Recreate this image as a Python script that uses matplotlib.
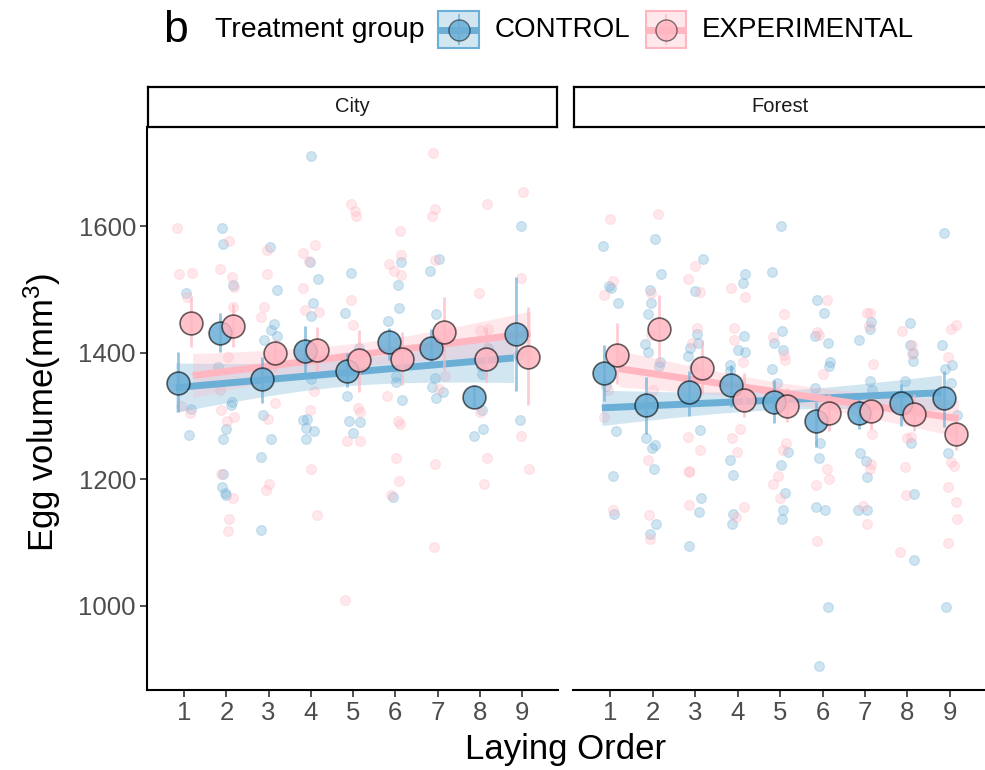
import numpy as np
import matplotlib.pyplot as plt
from matplotlib.colors import to_rgba
from matplotlib.patches import Rectangle

plt.rcParams['font.family'] = ['Liberation Sans', 'DejaVu Sans']
plt.rcParams['mathtext.fontset'] = 'custom'
plt.rcParams['mathtext.rm'] = 'Liberation Sans'
plt.rcParams['mathtext.default'] = 'regular'

# Data
laying_order = np.arange(1, 10)
sites = ['City', 'Forest']
groups = ['CONTROL', 'EXPERIMENTAL']

# raw egg volumes (mm3), one list per laying order 1..9
city_control = [
    [1494, 1312, 1270],
    [1598, 1572, 1508, 1378, 1322, 1318, 1280, 1264, 1208, 1188, 1179, 1175],
    [1567, 1500, 1445, 1436, 1426, 1421, 1301, 1264, 1235, 1120],
    [1711, 1543, 1516, 1478, 1458, 1359, 1296, 1294, 1281, 1276, 1263],
    [1526, 1463, 1408, 1331, 1293, 1291, 1273],
    [1544, 1508, 1471, 1451, 1364, 1354, 1325, 1172],
    [1549, 1530, 1461, 1361, 1346, 1338, 1329],
    [1408, 1379, 1366, 1309, 1279, 1268],
    [1600, 1396, 1294],
]
city_experimental = [
    [1598, 1526, 1524, 1488, 1316, 1305],
    [1576, 1532, 1520, 1504, 1472, 1393, 1341, 1309, 1299, 1293, 1208, 1171, 1137, 1119],
    [1562, 1525, 1472, 1457, 1320, 1296, 1193, 1183],
    [1571, 1558, 1545, 1503, 1468, 1465, 1340, 1309, 1217, 1143],
    [1635, 1625, 1616, 1484, 1444, 1313, 1307, 1261, 1261, 1010],
    [1593, 1554, 1540, 1529, 1523, 1331, 1292, 1288, 1234, 1198, 1176],
    [1716, 1627, 1616, 1547, 1363, 1343, 1224, 1093],
    [1635, 1494, 1438, 1436, 1306, 1234, 1192],
    [1655, 1519, 1396, 1268, 1216],
]
forest_control = [
    [1569, 1505, 1502, 1479, 1347, 1276, 1205, 1146],
    [1580, 1524, 1499, 1478, 1462, 1414, 1401, 1386, 1379, 1265, 1254, 1249, 1217, 1129, 1113],
    [1549, 1498, 1430, 1416, 1408, 1395, 1378, 1278, 1171, 1148, 1094],
    [1525, 1511, 1427, 1404, 1402, 1381, 1372, 1230, 1207, 1146, 1129],
    [1600, 1528, 1435, 1415, 1405, 1374, 1353, 1244, 1222, 1178, 1151, 1138],
    [1484, 1463, 1426, 1416, 1386, 1379, 1344, 1257, 1233, 1156, 1151, 998, 905],
    [1449, 1438, 1421, 1355, 1342, 1242, 1229, 1204, 1152, 1151],
    [1447, 1413, 1400, 1387, 1355, 1258, 1177, 1072],
    [1590, 1412, 1381, 1375, 1352, 1301, 1241, 998],
]
forest_experimental = [
    [1611, 1513, 1491, 1341, 1298, 1151],
    [1620, 1494, 1428, 1342, 1231, 1143, 1105],
    [1537, 1517, 1496, 1440, 1416, 1267, 1246, 1213, 1212, 1159],
    [1503, 1489, 1440, 1420, 1386, 1279, 1266, 1243, 1156, 1141],
    [1462, 1425, 1396, 1388, 1257, 1246, 1205, 1192, 1170],
    [1484, 1433, 1428, 1367, 1217, 1201, 1191, 1103],
    [1463, 1463, 1442, 1382, 1271, 1224, 1217, 1158, 1129],
    [1435, 1412, 1398, 1267, 1265, 1220, 1175, 1085],
    [1444, 1438, 1394, 1228, 1221, 1188, 1164, 1137, 1100],
]

# group means with error bar limits
city_ctrl_mean = [1353, 1431, 1358, 1403, 1371, 1417, 1408, 1330, 1430]
city_ctrl_lo = [1306, 1401, 1320, 1367, 1346, 1388, 1378, 1314, 1340]
city_ctrl_hi = [1401, 1463, 1393, 1443, 1399, 1440, 1438, 1349, 1520]
city_exp_mean = [1447, 1443, 1399, 1405, 1388, 1391, 1433, 1390, 1394]
city_exp_lo = [1409, 1410, 1372, 1372, 1338, 1349, 1372, 1354, 1317]
city_exp_hi = [1488, 1477, 1422, 1441, 1436, 1433, 1488, 1441, 1472]
forest_ctrl_mean = [1368, 1317, 1338, 1349, 1323, 1292, 1305, 1321, 1329]
forest_ctrl_lo = [1324, 1271, 1300, 1314, 1289, 1251, 1279, 1285, 1283]
forest_ctrl_hi = [1413, 1362, 1372, 1380, 1357, 1322, 1330, 1351, 1372]
forest_exp_mean = [1397, 1437, 1376, 1325, 1316, 1305, 1308, 1304, 1272]
forest_exp_lo = [1351, 1385, 1335, 1298, 1290, 1277, 1279, 1277, 1246]
forest_exp_hi = [1447, 1491, 1420, 1368, 1345, 1335, 1328, 1335, 1301]

# linear fit: value at laying order 1, value at 9, half width of CI at the ends
city_ctrl_fit = [1345, 1392, 39]
city_exp_fit = [1364, 1431, 35]
forest_ctrl_fit = [1313, 1337, 28]
forest_exp_fit = [1375, 1296, 29]

colors = {'CONTROL': '#6BAED6', 'EXPERIMENTAL': '#FFB6C1'}
dodge = {'CONTROL': -0.15, 'EXPERIMENTAL': 0.15}
line_dodge = {'CONTROL': -0.2, 'EXPERIMENTAL': 0.2}

panels = {
    'City': {
        'CONTROL': (city_control, city_ctrl_mean, city_ctrl_lo, city_ctrl_hi, city_ctrl_fit),
        'EXPERIMENTAL': (city_experimental, city_exp_mean, city_exp_lo, city_exp_hi, city_exp_fit),
    },
    'Forest': {
        'CONTROL': (forest_control, forest_ctrl_mean, forest_ctrl_lo, forest_ctrl_hi, forest_ctrl_fit),
        'EXPERIMENTAL': (forest_experimental, forest_exp_mean, forest_exp_lo, forest_exp_hi, forest_exp_fit),
    },
}

W, H = 985, 770


def box(x0, y0, x1, y1):
    # pixel box -> figure fraction rect
    return [x0 / W, 1 - y1 / H, (x1 - x0) / W, (y1 - y0) / H]


fig = plt.figure(figsize=(W / 100, H / 100), dpi=100)
rng = np.random.default_rng(7)

axes = {
    'City': fig.add_axes(box(147, 127, 558, 690)),
    'Forest': fig.add_axes(box(573, 127, 986, 690)),
}
strips = {
    'City': box(148, 87, 557, 127),
    'Forest': box(574, 87, 986, 127),
}

for site in sites:
    ax = axes[site]
    for g in groups:
        raw, mean, lo, hi, fit = panels[site][g]
        c = colors[g]
        # jittered raw points
        xs, ys = [], []
        for k, vals in zip(laying_order, raw):
            xs.extend(k + rng.uniform(-0.2, 0.2, len(vals)))
            ys.extend(vals)
        ax.scatter(xs, ys, s=50, color=c, alpha=0.32, linewidths=0.8, zorder=2)

    for g in groups:
        raw, mean, lo, hi, fit = panels[site][g]
        c = colors[g]
        # lm fit with confidence ribbon
        x0 = laying_order[0] + line_dodge[g]
        x1 = laying_order[-1] + line_dodge[g]
        xl = np.linspace(x0, x1, 60)
        yl = fit[0] + (fit[1] - fit[0]) * (xl - x0) / (x1 - x0)
        xc = (x0 + x1) / 2
        hw = fit[2] * np.sqrt((1 + (xl - xc) ** 2 / 6.67) / (1 + 16 / 6.67))
        ax.fill_between(xl, yl - hw, yl + hw, color=c, alpha=0.3, lw=0, zorder=3)
        ax.plot(xl, yl, color=c, lw=5, solid_capstyle='butt', zorder=4)

    for g in groups:
        raw, mean, lo, hi, fit = panels[site][g]
        c = colors[g]
        xm = laying_order + dodge[g]
        ax.vlines(xm, lo, hi, color=c, lw=2, alpha=0.7, zorder=5)
        ax.scatter(xm, mean, s=270, facecolors=[to_rgba(c, 0.85)],
                   edgecolors=[(0, 0, 0, 0.6)], linewidths=1.2, zorder=6)

    ax.set_xlim(0.12, 9.85)
    ax.set_ylim(867, 1757)
    ax.set_xticks(laying_order)
    ax.set_yticks([1000, 1200, 1400, 1600])
    ax.tick_params(axis='both', labelsize=18.5, labelcolor='#4D4D4D', color='#333333',
                   length=5, width=1.2, pad=3)
    for s in ['top', 'right']:
        ax.spines[s].set_visible(False)
    ax.spines['bottom'].set_linewidth(1.5)
    ax.spines['left'].set_linewidth(1.5)
    if site == 'Forest':
        ax.spines['left'].set_visible(False)
        ax.tick_params(axis='y', left=False, labelleft=False)

    # facet strip
    sax = fig.add_axes(strips[site])
    sax.set_xticks([])
    sax.set_yticks([])
    for s in sax.spines.values():
        s.set_linewidth(1.6)
    sax.text(0.5, 0.5, site, ha='center', va='center', fontsize=14.5, color='#1A1A1A')

fig.text(42 / W, 1 - 412 / H, 'Egg volume(mm$^{3}$)', rotation=90, ha='center', va='center', fontsize=25)
fig.text(566 / W, 1 - 750 / H, 'Laying Order', ha='center', va='center', fontsize=25)

# legend on top
fig.text(163 / W, 1 - 30 / H, 'b', ha='left', va='center', fontsize=32)
fig.text(215 / W, 1 - 30 / H, 'Treatment group', ha='left', va='center', fontsize=20.5)
legend_pos = {'CONTROL': (438, 479, 495), 'EXPERIMENTAL': (646, 686, 702)}
for g in groups:
    c = colors[g]
    kx0, kx1, tx = legend_pos[g]
    kax = fig.add_axes(box(kx0, 11, kx1, 48))
    kax.set_xlim(0, 1)
    kax.set_ylim(0, 1)
    kax.axis('off')
    kax.add_patch(Rectangle((0, 0), 1, 1, facecolor=to_rgba(c, 0.3), edgecolor=c, lw=1.5,
                            transform=kax.transAxes, clip_on=False))
    kax.plot([0, 1], [0.5, 0.5], color=c, lw=5, solid_capstyle='butt')
    kax.plot([0.5, 0.5], [0.1, 0.9], color=c, lw=1.5, alpha=0.7)
    kax.scatter([0.5], [0.5], s=230, facecolors=[to_rgba(c, 0.85)],
                edgecolors=[(0, 0, 0, 0.5)], linewidths=1.0, zorder=5)
    fig.text(tx / W, 1 - 30 / H, g, ha='left', va='center', fontsize=20)

plt.savefig('out.png', dpi=100)
